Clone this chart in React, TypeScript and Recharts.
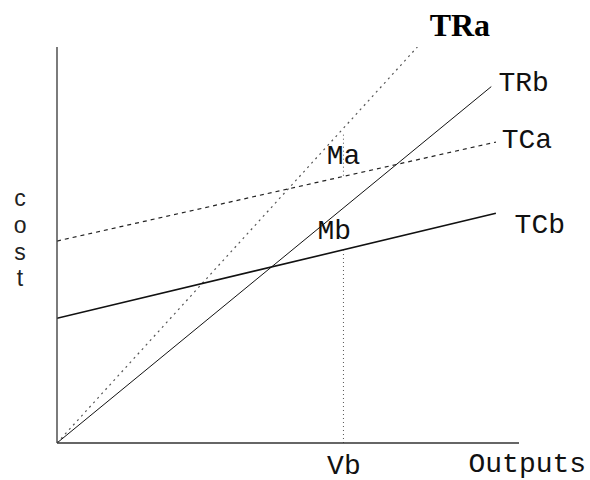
import { FC } from 'react';

import { Line, LineChart, ReferenceDot, XAxis, YAxis } from 'recharts';

type Pt = { x: number; y: number };

// straight-line segments, in "output" (x) and "cost" (y) units 0..100
const trA: Pt[] = [
  { x: 0, y: 0 },
  { x: 78, y: 100 },
];
const trB: Pt[] = [
  { x: 0, y: 0 },
  { x: 94, y: 90 },
];
const tcA: Pt[] = [
  { x: 0, y: 51 },
  { x: 95, y: 76 },
];
const tcB: Pt[] = [
  { x: 0, y: 31.5 },
  { x: 95, y: 58 },
];
const vbDrop: Pt[] = [
  { x: 62, y: 0 },
  { x: 62, y: 49 },
];
const maDrop: Pt[] = [
  { x: 62, y: 67.5 },
  { x: 62, y: 78.5 },
];

// text labels: [text, x, y]
const monoLabels: [string, number, number][] = [
  ['TRb', 101, 91.4],
  ['TCa', 101.7, 77],
  ['TCb', 104.5, 55.6],
  ['Ma', 62, 73],
  ['Mb', 60, 54],
  ['Vb', 62.1, -5.3],
  ['Outputs', 101.8, -4.8],
];
const titleLabel: [string, number, number] = ['TRa', 87.2, 105.6];
const costLetters = ['c', 'o', 's', 't'];

const mono = '"Courier New", "Liberation Mono", monospace';
const serif = '"Times New Roman", "Liberation Serif", serif';
const sans = '"Liberation Sans", Arial, sans-serif';

const App: FC = () => {
  return (
    <div style={{ position: 'absolute', left: 0, top: 0, background: '#fff' }}>
      <LineChart width={590} height={480} margin={{ top: 47, right: 71, bottom: 36, left: 56 }}>
        <XAxis
          type="number"
          dataKey="x"
          domain={[0, 100]}
          allowDataOverflow
          height={1}
          tick={false}
          tickLine={false}
          axisLine={{ stroke: '#333', strokeWidth: 1.6 }}
        />
        <YAxis
          type="number"
          dataKey="y"
          domain={[0, 100]}
          allowDataOverflow
          width={1}
          tick={false}
          tickLine={false}
          axisLine={{ stroke: '#444', strokeWidth: 1.4 }}
        />

        <Line data={trA} dataKey="y" stroke="#555" strokeWidth={1.2} strokeDasharray="2 4" dot={false} isAnimationActive={false} />
        <Line data={trB} dataKey="y" stroke="#111" strokeWidth={1} dot={false} isAnimationActive={false} />
        <Line data={tcA} dataKey="y" stroke="#222" strokeWidth={1.2} strokeDasharray="4 4" dot={false} isAnimationActive={false} />
        <Line data={tcB} dataKey="y" stroke="#111" strokeWidth={1.6} dot={false} isAnimationActive={false} />
        <Line data={vbDrop} dataKey="y" stroke="#555" strokeWidth={1} strokeDasharray="1 3" dot={false} isAnimationActive={false} />
        <Line data={maDrop} dataKey="y" stroke="#555" strokeWidth={1} strokeDasharray="1 3" dot={false} isAnimationActive={false} />

        <ReferenceDot
          x={titleLabel[1]}
          y={titleLabel[2]}
          r={0}
          fill="none"
          stroke="none"
          ifOverflow="visible"
          label={{ value: titleLabel[0], position: 'center', fontFamily: serif, fontSize: 32, fill: '#000', fontWeight: 'bold' }}
        />
        {monoLabels.map(([t, x, y]) => (
          <ReferenceDot
            key={t}
            x={x}
            y={y}
            r={0}
            fill="none"
            stroke="none"
            ifOverflow="visible"
            label={{ value: t, position: 'center', fontFamily: mono, fontSize: 28, fill: '#111' }}
          />
        ))}
        {costLetters.map((c, i) => (
          <ReferenceDot
            key={c}
            x={-8}
            y={62 - i * 6.8}
            r={0}
            fill="none"
            stroke="none"
            ifOverflow="visible"
            label={{ value: c, position: 'center', fontFamily: sans, fontSize: 23, fill: '#222' }}
          />
        ))}
      </LineChart>
    </div>
  );
};

export default App;
